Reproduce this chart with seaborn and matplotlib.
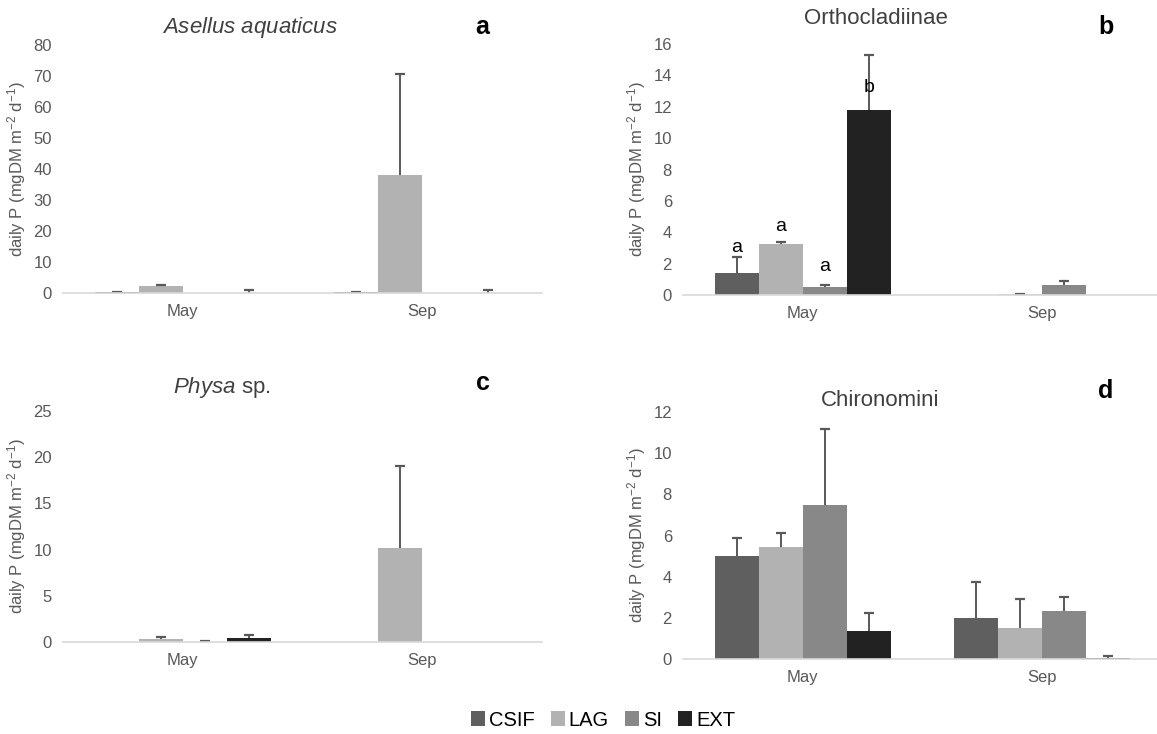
import matplotlib
matplotlib.use("Agg")
import matplotlib.pyplot as plt
import seaborn as sns
import pandas as pd
from matplotlib.patches import Patch

sns.set_style("white")
plt.rcParams['font.family'] = ['Liberation Sans', 'DejaVu Sans']
plt.rcParams['mathtext.fontset'] = 'custom'
plt.rcParams['mathtext.rm'] = 'Liberation Sans'
plt.rcParams['mathtext.it'] = 'Liberation Sans:italic'

months = ["May", "Sep"]
sites = ["CSIF", "LAG", "SI", "EXT"]
colors = ["#5f5f5f", "#b2b2b2", "#888888", "#222222"]

# values [site][month]
asellus_mean = [[0.2, 0.2], [2.1, 38.0], [0.0, 0.0], [0.1, 0.1]]
asellus_err = [[0.05, 0.05], [0.5, 32.5], [0.0, 0.0], [0.9, 0.9]]
ortho_mean = [[1.4, 0.02], [3.25, 0.05], [0.5, 0.65], [11.8, 0.02]]
ortho_err = [[1.05, 0.0], [0.1, 0.03], [0.15, 0.25], [3.5, 0.0]]
physa_mean = [[0.0, 0.0], [0.3, 10.2], [0.05, 0.0], [0.4, 0.0]]
physa_err = [[0.0, 0.0], [0.2, 8.9], [0.1, 0.0], [0.4, 0.0]]
chiro_mean = [[5.0, 2.0], [5.45, 1.5], [7.5, 2.35], [1.35, 0.05]]
chiro_err = [[0.9, 1.75], [0.65, 1.4], [3.65, 0.65], [0.9, 0.1]]

ortho_letters = ["a", "a", "a", "b"]
ortho_letter_y = [3.0, 4.35, 1.8, 13.2]

panels = [
    dict(mean=asellus_mean, err=asellus_err, ylim=80, step=10,
         title=r"$\mathit{Asellus\ aquaticus}$", letter="a",
         rect=(63, 45, 542, 293), title_xy=(250, 27), letter_xy=(482, 27)),
    dict(mean=ortho_mean, err=ortho_err, ylim=16, step=2,
         title="Orthocladiinae", letter="b",
         rect=(683, 44, 1162, 295), title_xy=(876, 18), letter_xy=(1106, 27)),
    dict(mean=physa_mean, err=physa_err, ylim=25, step=5,
         title=r"$\mathit{Physa}$ sp.", letter="c",
         rect=(63, 411, 542, 642), title_xy=(222, 388), letter_xy=(483, 383)),
    dict(mean=chiro_mean, err=chiro_err, ylim=12, step=2,
         title="Chironomini", letter="d",
         rect=(683, 412, 1162, 659), title_xy=(880, 400), letter_xy=(1106, 391)),
]

W, H = 1157, 734
fig = plt.figure(figsize=(W / 100, H / 100), dpi=100)

for pi, p in enumerate(panels):
    x0, y0, x1, y1 = p["rect"]
    xr = min(x1, W)
    ax = fig.add_axes([x0 / W, 1 - y1 / H, (xr - x0) / W, (y1 - y0) / H])
    rows = []
    for si, s in enumerate(sites):
        for mi, m in enumerate(months):
            rows.append(dict(month=m, site=s, value=p["mean"][si][mi], err=p["err"][si][mi]))
    df = pd.DataFrame(rows)
    sns.barplot(data=df, x="month", y="value", hue="site", order=months, hue_order=sites,
                palette=colors, saturation=1, width=0.735, errorbar=None, ax=ax,
                legend=False, edgecolor="none", linewidth=0)
    bar_conts = list(ax.containers)
    for si, cont in enumerate(bar_conts):
        for mi, bar in enumerate(cont):
            e = p["err"][si][mi]
            if e > 0:
                cx = bar.get_x() + bar.get_width() / 2
                top = bar.get_height() + e
                ax.errorbar(cx, bar.get_height(), yerr=[[0], [e]], fmt="none",
                            ecolor="#595959", elinewidth=1.4, capsize=0)
                ax.plot([cx], [top], marker="_", markersize=7, markeredgewidth=1.6,
                        color="#595959", linestyle="none")
    ax.set_xlim(-0.5, -0.5 + (xr - x0) / 239.5)
    ax.set_ylim(0, p["ylim"])
    ax.set_yticks(range(0, p["ylim"] + 1, p["step"]))
    ax.set_xlabel("")
    ax.set_ylabel(r"daily P (mgDM m$^{-2}$ d$^{-1}$)", color="#595959", fontsize=12, labelpad=4)
    ax.tick_params(axis="both", length=0, labelsize=12, labelcolor="#595959")
    ax.tick_params(axis="x", pad=8)
    ax.tick_params(axis="y", pad=8)
    for sp in ["top", "right", "left"]:
        ax.spines[sp].set_visible(False)
    ax.spines["bottom"].set_color("#d9d9d9")
    ax.spines["bottom"].set_linewidth(1.2)
    tx, ty = p["title_xy"]
    fig.text(tx / W, 1 - ty / H, p["title"], ha="center", va="center", fontsize=16, color="#404040")
    lx, ly = p["letter_xy"]
    fig.text(lx / W, 1 - ly / H, p["letter"], ha="center", va="center", fontsize=18,
             fontweight="bold", color="black")
    if pi == 1:
        for si, cont in enumerate(bar_conts):
            bar = cont[0]
            cx = bar.get_x() + bar.get_width() / 2
            ax.text(cx, ortho_letter_y[si], ortho_letters[si], ha="center", va="center",
                    fontsize=14, color="black")

handles = [Patch(facecolor=c, edgecolor="none", label=s) for s, c in zip(sites, colors)]
fig.legend(handles=handles, loc="center", bbox_to_anchor=(603 / W, 1 - 720 / H), ncol=4,
           frameon=False, fontsize=14.5, handlelength=0.7, handleheight=0.7,
           handletextpad=0.2, columnspacing=0.8, labelcolor="black")

fig.savefig("out.png", dpi=100)
